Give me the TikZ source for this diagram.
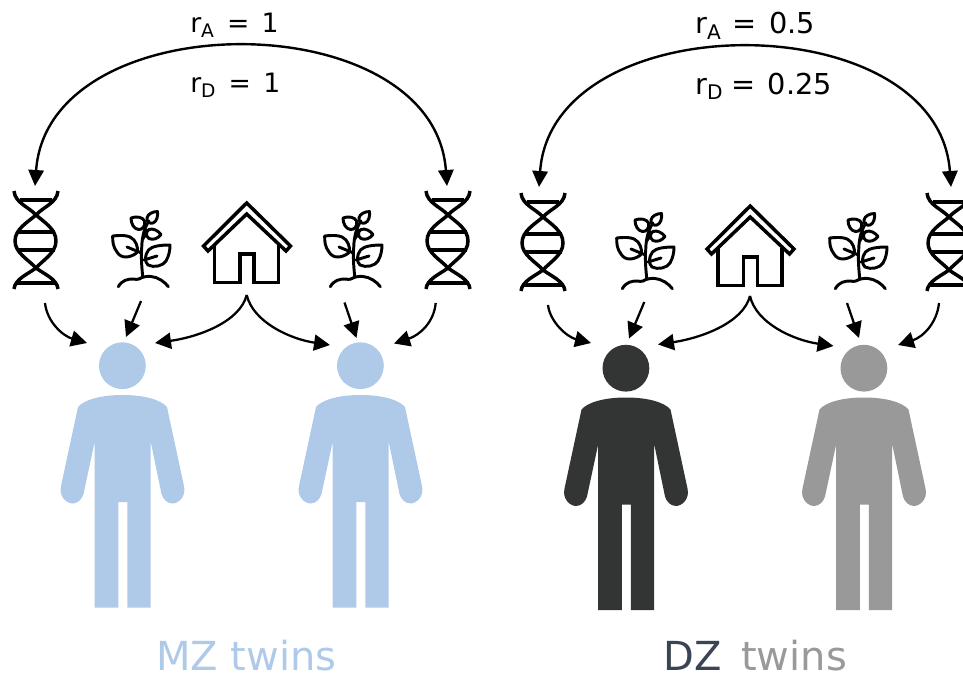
\documentclass[tikz,border=0pt]{standalone}
\usepackage{fontspec}
\setmainfont{DejaVu Sans}
\usetikzlibrary{arrows.meta}
\definecolor{twinblue}{HTML}{AFCAE8}
\definecolor{twindark}{HTML}{333535}
\definecolor{twingray}{HTML}{999999}
\definecolor{dzlabel}{HTML}{3A4454}
\tikzset{
  icon/.style={line width=2.6pt,line join=miter,black,fill=none},
  thinicon/.style={line width=2.2pt,line join=round,line cap=round,black,fill=none},
  conn/.style={line width=1.7pt,-{Triangle[length=12pt,width=12pt]}},
  bigconn/.style={line width=1.8pt,{Triangle[length=12pt,width=11.5pt]}-{Triangle[length=12pt,width=11.5pt]}},
  rlabel/.style={anchor=base west,inner sep=0pt,font=\fontsize{20pt}{22pt}\selectfont},
  rlabelb/.style={anchor=base west,inner sep=0pt,font=\fontsize{21.6pt}{24pt}\selectfont},
  twinlabel/.style={anchor=base west,inner sep=0pt,font=\fontsize{30pt}{32pt}\selectfont},
  person/.pic={
    \fill[#1] (122.4,365.7) circle[radius=23.4];
    \fill[#1] (78,407) .. controls (84,400) and (100,395) .. (122.5,395)
      .. controls (145,395) and (161,400) .. (167,407)
      -- (184,486) .. controls (186.5,497) and (178,503.5) .. (172.5,503.5)
      .. controls (167,503.5) and (163,499) .. (161.5,494)
      -- (150.7,441.7) -- (150.7,607.7) -- (127.3,607.7) -- (127.3,502)
      -- (118.3,502) -- (118.3,607.7) -- (94.7,607.7) -- (94.7,441.7)
      -- (83.5,494) .. controls (82,499) and (78,503.5) .. (72.5,503.5)
      .. controls (67,503.5) and (58.5,497) .. (61,486) -- cycle;
  },
  dna/.pic={
    \draw[icon] (14,191) .. controls (15,203) and (29,207) .. (36,215)
      .. controls (44,222) and (56,229) .. (56,241)
      .. controls (56,253) and (43,260) .. (36,268)
      .. controls (28,274) and (15,279) .. (14,289);
    \draw[icon] (58,191) .. controls (57,203) and (43,207) .. (36,215)
      .. controls (28,222) and (15,229) .. (15,241)
      .. controls (15,253) and (29,260) .. (36,268)
      .. controls (44,274) and (57,279) .. (58,289);
    \draw[icon] (20,200) -- (52,200) (17,232) -- (55,232) (17,250) -- (55,250) (16,283) -- (56,283);
  },
  plant/.pic={
    \draw[thinicon] (118.3,286.7) .. controls (122,280) and (128,279) .. (133,279)
      .. controls (136,279) and (137,280) .. (139,279) .. controls (142,277) and (147,276) .. (151,276.5)
      .. controls (158,277) and (165,282) .. (168.3,286.7);
    \draw[thinicon] (142.7,276) .. controls (141.5,265) and (141,255) .. (141.7,248)
      .. controls (142,235) and (145,227) .. (149,221);
    \draw[thinicon] (143,239) -- (146,230);
    % big left leaf
    \draw[thinicon] (112.7,236) .. controls (122,235) and (130,235) .. (134,240)
      .. controls (138,245) and (138,251) .. (136.5,253)
      .. controls (130,258) and (121,259) .. (117,252)
      .. controls (113,247) and (112.5,241) .. (112.7,236) -- cycle;
    \draw[thinicon] (127,247) -- (141.5,253);
    % big right leaf
    \draw[thinicon] (170,245) .. controls (161,245) and (152,246) .. (148.5,250)
      .. controls (144.5,255) and (144.5,262) .. (148,265)
      .. controls (154,268) and (163,266) .. (166,261)
      .. controls (169,256) and (170,250) .. (170,245) -- cycle;
    \draw[thinicon] (157,256) -- (144,260);
    % small leaves
    \draw[thinicon] (131,218) .. controls (136,216) and (143,217) .. (144.5,221)
      .. controls (146,226) and (142,230) .. (138.5,229.5)
      .. controls (134,229) and (131,224) .. (131,218) -- cycle;
    \draw[thinicon] (157.5,211.5) .. controls (153,211.5) and (147.5,214) .. (147,218)
      .. controls (146.5,222) and (150,224) .. (153,223)
      .. controls (157,221.5) and (158,216) .. (157.5,211.5) -- cycle;
    \draw[thinicon] (161,234.5) .. controls (158,230.5) and (153,228) .. (149,229.5)
      .. controls (145.5,231.5) and (145.5,236) .. (149,238.5)
      .. controls (153,240.5) and (158,238.5) .. (161,234.5) -- cycle;
    \draw[thinicon] (144,237) -- (147,233);
  },
  house/.pic={
    \draw[icon] (203.5,246) -- (246.7,203) -- (290.5,246) -- (286,251) -- (246.7,214) -- (208,251) -- cycle;
    \draw[icon] (214.3,245) -- (214.3,282.3) -- (240,282.3) -- (240,254) -- (254,254) -- (254,282.3) -- (278.3,282.3) -- (278.3,245);
  }
}
\begin{document}
\begin{tikzpicture}[x=0.75pt,y=-0.75pt]
\useasboundingbox (0,0) rectangle (963,674);
\clip (0,0) rectangle (963,674);

% people
\pic at (0,0) {person=twinblue};
\pic at (238,0) {person=twinblue};
\pic at (503.5,2.5) {person=twindark};
\pic at (741.5,2.5) {person=twingray};

% icons
\pic at (0,0) {dna};
\pic at (412,0) {dna};
\pic at (507,2) {dna};
\pic at (913,2) {dna};
\pic at (0,0) {plant};
\pic at (212,0) {plant};
\pic at (504,2) {plant};
\pic at (717,2) {plant};
\pic at (0,0) {house};
\pic at (503.5,3) {house};

% labels
\node[rlabel] (ra1) at (190,33) {r\textsubscript{A}\hspace{2.9pt} = \hspace{2.9pt}1};
\node[rlabel] (rd1) at (190,93) {r\textsubscript{D}\hspace{2.9pt} = \hspace{2.9pt}1};
\node[rlabelb] (ra2) at (695,34) {r\textsubscript{A}\hspace{1pt} = \hspace{2.8pt}0.5};
\node[rlabelb] (rd2) at (695,94) {r\textsubscript{D}\hspace{-1pt} = \hspace{2.5pt}0.25};
\node[twinlabel,text=twinblue] (mz) at (156,670.5) {MZ twins};
\node[twinlabel,text=dzlabel] (dz) at (663,670.5) {DZ};
\node[twinlabel,text=twingray] (dzt) at (741,670.5) {twins};

% connector ends
\coordinate (mzL) at (35,186);
\coordinate (mzR) at (447,186);
\coordinate (dzL) at (539,187);
\coordinate (dzR) at (951,187);

\coordinate (a1s) at (45,303);   \coordinate (a1e) at (87,343);
\coordinate (a2s) at (141,301);  \coordinate (a2e) at (126,337);
\coordinate (a3s) at (246.7,295);\coordinate (a3e) at (155,343);
\coordinate (a4e) at (330,345);
\coordinate (a5s) at (344.5,302.5);  \coordinate (a5e) at (356.5,338);
\coordinate (a6s) at (435.7,303);  \coordinate (a6e) at (394,343.5);

\coordinate (b1s) at (548,305);  \coordinate (b1e) at (591,343);
\coordinate (b2s) at (644.3,302);  \coordinate (b2e) at (629,338.5);
\coordinate (b3s) at (750,296);  \coordinate (b3e) at (658,344.5);
\coordinate (b4e) at (833.5,346);
\coordinate (b5s) at (847,303);  \coordinate (b5e) at (859,338);
\coordinate (b6s) at (939,303);  \coordinate (b6e) at (898,345);

% connectors
\draw[bigconn] (mzL) .. controls (48,2) and (434,2) .. (mzR);
\draw[bigconn] (dzL) .. controls (552,3) and (938,3) .. (dzR);

\draw[conn] (a1s) .. controls (47,322) and (63,336) .. (a1e);
\draw[conn] (a2s) -- (a2e);
\draw[conn] (a3s) .. controls (240,322) and (198,337) .. (a3e);
\draw[conn] (a3s) .. controls (253,322) and (290,339) .. (a4e);
\draw[conn] (a5s) -- (a5e);
\draw[conn] (a6s) .. controls (434,322) and (420,335) .. (a6e);

\draw[conn] (b1s) .. controls (550,322) and (567,337) .. (b1e);
\draw[conn] (b2s) -- (b2e);
\draw[conn] (b3s) .. controls (743,323) and (701,338) .. (b3e);
\draw[conn] (b3s) .. controls (756,323) and (793,340) .. (b4e);
\draw[conn] (b5s) -- (b5e);
\draw[conn] (b6s) .. controls (937,323) and (923,337) .. (b6e);
\end{tikzpicture}
\end{document}
